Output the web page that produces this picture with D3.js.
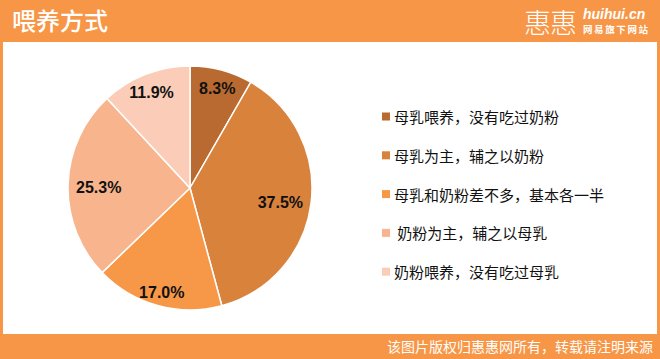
<!DOCTYPE html>
<html><head><meta charset="utf-8">
<script src="https://cdn.jsdelivr.net/npm/d3@7"></script>
<style>body{margin:0;background:#fff}svg{display:block}</style>
</head><body>
<svg id="c" width="660" height="359"></svg>
<script>
const categories = ["母乳喂养，没有吃过奶粉","母乳为主，辅之以奶粉","母乳和奶粉差不多，基本各一半"," 奶粉为主，辅之以母乳","奶粉喂养，没有吃过母乳"];
const values = [8.3, 37.5, 17.0, 25.3, 11.9];
const colors = ["#B96A30","#D8823C","#F79848","#F8B48D","#FBCDB8"];
const title = "喂养方式";
const footer = "该图片版权归惠惠网所有，转载请注明来源";

const svg = d3.select("#c");
const W = 660, H = 359;
svg.append("rect").attr("width",W).attr("height",H).attr("fill","#F79646");
svg.append("rect").attr("x",3).attr("y",42).attr("width",654).attr("height",292).attr("fill","#fff");

svg.append("text").attr("x",12).attr("y",30).text(title)
  .attr("fill","#fff").attr("font-family","Noto Sans CJK SC").attr("font-weight",500).attr("font-size",24);

// logo
svg.append("text").attr("x",524).attr("y",33).text("惠惠")
  .attr("fill","#fff").attr("font-family","Noto Sans CJK SC").attr("font-weight",300).attr("font-size",27).attr("letter-spacing",-1);
svg.append("text").attr("x",583).attr("y",19).text("huihui.cn")
  .attr("fill","#fff").attr("font-family","Liberation Sans").attr("font-weight","bold").attr("font-style","italic").attr("font-size",14);
svg.append("text").attr("x",583).attr("y",33).text("网易旗下网站")
  .attr("fill","#fff").attr("font-family","Noto Sans CJK SC").attr("font-weight",700).attr("font-size",9.5).attr("letter-spacing",1.6);

svg.append("text").attr("x",653).attr("y",352).attr("text-anchor","end").text(footer)
  .attr("fill","#fff").attr("font-family","Noto Sans CJK SC").attr("font-size",14);

// pie
const cx = 190, cy = 188, R = 122;
const pie = d3.pie().sort(null).value(d=>d);
const arcs = pie(values);
const arc = d3.arc().innerRadius(0).outerRadius(R);
const g = svg.append("g").attr("transform",`translate(${cx},${cy})`);
g.selectAll("path").data(arcs).join("path")
  .attr("d",arc).attr("fill",(d,i)=>colors[i])
  .attr("stroke","#fff").attr("stroke-width",1.5);

const fmt = d3.format(".1f");
g.selectAll("text.lbl").data(arcs).join("text").attr("class","lbl")
  .text(d=>fmt(d.data)+"%")
  .attr("font-family","'Liberation Sans Narrow', 'Liberation Sans', Arial")
  .attr("font-weight","bold").attr("font-size",16).attr("fill","#111")
  .attr("text-anchor","middle").attr("dominant-baseline","central")
  .each(function(d){
    // inside-end: label box edge along the ray sits just inside the rim
    const w = this.getComputedTextLength(), h = 16;
    const a = (d.startAngle+d.endAngle)/2;
    const sx = Math.sin(a), sy = -Math.cos(a);
    const t = Math.min(w/2/Math.max(Math.abs(sx),1e-6), h/2/Math.max(Math.abs(sy),1e-6));
    const r = R - 8 - t;
    d3.select(this).attr("x",r*sx).attr("y",r*sy+2.5);
  });

// legend
const lg = svg.append("g");
const rows = lg.selectAll("g").data(categories).join("g")
  .attr("transform",(d,i)=>`translate(382,${116.5+i*38.8})`);
rows.append("rect").attr("x",0).attr("y",-4).attr("width",8).attr("height",8).attr("fill",(d,i)=>colors[i]);
rows.append("text").attr("x",12).attr("y",0).attr("dominant-baseline","central")
  .style("white-space","pre")
  .text(d=>d).attr("font-family","Noto Sans CJK SC").attr("font-size",15).attr("fill","#111");
</script>
</body></html>
